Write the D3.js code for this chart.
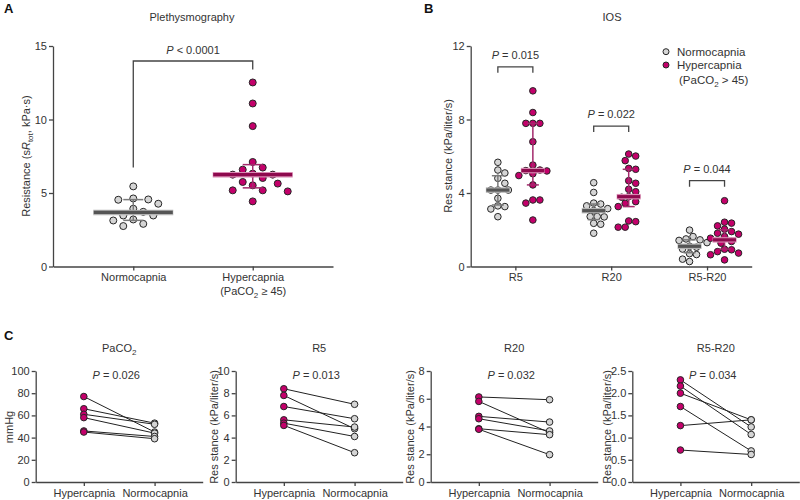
<!DOCTYPE html>
<html><head><meta charset="utf-8">
<script src="https://cdn.jsdelivr.net/npm/d3@7"></script>
<style>
body{margin:0;background:#fff;}
svg{font-family:"Liberation Sans",Arial,Helvetica,sans-serif;}
</style></head><body>
<svg id="chart" width="800" height="500"></svg>
<script>
// ---------------- DATA ----------------
// Panel A: plethysmography
const plethCategories = ["Normocapnia", "Hypercapnia"];
const plethNormo = [5.45,4.63,4.56,4.54,4.27,3.93,3.72,3.47,3.47,3.20,3.13,2.90,2.75];
const plethHyper = [12.52,11.09,9.55,7.11,6.73,6.59,6.32,6.25,6.25,6.02,5.75,5.64,5.52,5.18,5.18,5.11,4.43];
const plethMedian = [3.68, 6.25];
const plethLow = [3.14, 5.35];
const plethHigh = [4.55, 6.93];
const plethTicks = [0,5,10,15];
const plethP = "< 0.0001";

// Panel B: IOS
const iosCategories = ["R5","R20","R5-R20"];
const iosNormo = [
  [5.67,5.25,5.09,4.80,4.53,4.16,4.16,4.16,3.71,3.30,3.26,3.13,2.71],
  [4.56,4.03,3.45,3.40,3.30,3.15,3.04,2.72,2.72,2.70,2.35,2.30,1.81],
  [1.98,1.63,1.50,1.45,1.42,1.30,1.10,1.05,0.95,0.70,0.65,0.40,0.27]
];
const iosHyper = [
  [9.56,8.38,7.79,7.79,7.79,6.79,5.52,5.25,5.22,5.20,5.05,4.95,4.44,3.62,3.62,3.45,2.53],
  [6.12,6.01,5.76,5.34,5.29,4.67,4.53,4.20,4.07,3.80,3.77,3.53,3.44,3.26,2.48,2.44,2.14,2.14],
  [3.58,2.41,2.36,2.21,2.03,1.90,1.81,1.76,1.63,1.54,1.36,1.27,0.94,0.91,0.81,0.73,0.64,0.36]
];
const iosNormoMedian = [4.16,3.04,1.10];
const iosNormoLow = [3.35,2.55,0.75];
const iosNormoHigh = [4.94,3.40,1.45];
const iosHyperMedian = [5.22,3.80,1.45];
const iosHyperLow = [4.44,3.26,0.95];
const iosHyperHigh = [7.79,5.29,2.00];
const iosTicks = [0,4,8,12];
const iosP = ["0.015","0.022","0.044"];

// Panel C: paired
const pairedTitles = ["PaCO2","R5","R20","R5-R20"];
const pairedGroups = ["Hypercapnia","Normocapnia"];
const pairedHyper = [
  [77,66,61,58,46,45],
  [8.4,7.8,6.8,5.6,5.3,5.1],
  [6.13,5.81,4.73,4.56,3.84,3.80],
  [2.30,2.16,2.00,1.70,1.27,0.72]
];
const pairedNormo = [
  [45,53,52,44,41,39],
  [7.0,4.8,5.7,4.95,4.1,2.64],
  [5.93,3.55,4.32,3.68,3.41,1.97],
  [1.24,1.07,1.40,0.70,1.40,0.62]
];
const pairedTicks = [
  [0,20,40,60,80,100],
  [0,2,4,6,8,10],
  [0,2,4,6,8],
  [0,0.5,1.0,1.5,2.0,2.5]
];
const pairedP = ["0.026","0.013","0.032","0.034"];
const pairedYLabels = ["mmHg","Res stance (kPa/liter/s)","Res stance (kPa/liter/s)","Res stance (kPa/liter/s)"];

// ---------------- STYLE ----------------
const MAG = "#c3006a", MAG_DARK = "#8e0a4e", MAG_LIGHT = "#d88ab2", MAG_BAR = "#a32a6c";
const GREY = "#d5d5d5", GREY_DARK = "#555555", GREY_LIGHT = "#b5b5b5", GREY_BAR = "#7a7a7a";
const STROKE = "#262626", TXT = "#333", AX = "#444";
const FS = 11;

const svg = d3.select("#chart");

function styleAxis(g) {
  g.selectAll("path,line").attr("stroke", AX).attr("stroke-width", 1.3);
  g.selectAll("text").attr("fill", TXT).attr("font-size", FS);
}

function swarm(vals, yScale, step, minD) {
  const pts = vals.map(v => ({v, py: yScale(v), dx: 0}));
  const order = pts.slice().sort((a, b) => a.py - b.py);
  const placed = [];
  for (const p of order) {
    for (let k = 0; k < 60; k++) {
      const off = k === 0 ? 0 : (k % 2 === 1 ? 1 : -1) * Math.ceil(k / 2) * step;
      if (placed.every(q => (q.dx - off) ** 2 + (q.py - p.py) ** 2 >= minD * minD)) { p.dx = off; break; }
    }
    placed.push(p);
  }
  return pts;
}

function drawDots(g, pts, cx, fill, r) {
  g.selectAll(null).data(pts).enter().append("circle")
    .attr("cx", d => cx + d.dx).attr("cy", d => d.py).attr("r", r)
    .attr("fill", fill).attr("stroke", STROKE).attr("stroke-width", 1);
}

function drawSummary(g, cx, y, med, lo, hi, halfW, capW, light, dark, bar) {
  g.append("line").attr("x1", cx).attr("x2", cx).attr("y1", y(lo)).attr("y2", y(hi))
    .attr("stroke", bar).attr("stroke-width", 1.5);
  [lo, hi].forEach(v => g.append("line").attr("x1", cx - capW).attr("x2", cx + capW)
    .attr("y1", y(v)).attr("y2", y(v)).attr("stroke", bar).attr("stroke-width", 1.5));
  g.append("line").attr("x1", cx - halfW).attr("x2", cx + halfW).attr("y1", y(med)).attr("y2", y(med))
    .attr("stroke", light).attr("stroke-width", 5.5);
  g.append("line").attr("x1", cx - halfW + 0.5).attr("x2", cx + halfW - 0.5).attr("y1", y(med)).attr("y2", y(med))
    .attr("stroke", dark).attr("stroke-width", 3.2);
}

function pText(g, x, y, val, prefix) {
  const t = g.append("text").attr("x", x).attr("y", y).attr("text-anchor", "middle")
    .attr("font-size", FS).attr("fill", TXT);
  t.append("tspan").attr("font-style", "italic").text("P");
  t.append("tspan").text(prefix + val);
}

function bracket(g, x1, x2, yTop, y1, y2) {
  g.append("path").attr("d", `M${x1},${y1}V${yTop}H${x2}V${y2}`)
    .attr("fill", "none").attr("stroke", AX).attr("stroke-width", 1.3);
}

// ---------------- PANEL A ----------------
{
  const g = svg.append("g");
  const x = d3.scalePoint().domain(plethCategories).range([53, 333]).padding(0.672);
  const y = d3.scaleLinear().domain([0, 15]).range([266.5, 46]);
  const ya = g.append("g").attr("transform", "translate(53,0)")
    .call(d3.axisLeft(y).tickValues(plethTicks).tickSize(4).tickSizeOuter(0).tickPadding(2));
  styleAxis(ya);
  const xa = g.append("g").attr("transform", "translate(0,266.5)")
    .call(d3.axisBottom(x).tickSize(4).tickSizeOuter(0).tickPadding(3));
  styleAxis(xa);
  xa.selectAll(".tick text").filter(d => d === "Hypercapnia").each(function() {
    const t = d3.select(this);
    t.append("tspan").attr("x", 0).attr("dy", "1.2em").text("(PaCO");
    t.append("tspan").attr("font-size", 8).attr("dy", 3).text("2");
    t.append("tspan").attr("dy", -3).text(" \u2265 45)");
  });

  const series = [plethNormo, plethHyper];
  const fills = [GREY, MAG];
  series.forEach((vals, i) => {
    const cx = x(plethCategories[i]);
    drawDots(g, swarm(vals, y, 5, 10.2), cx, fills[i], 3.5);
  });
  drawSummary(g, x(plethCategories[0]), y, plethMedian[0], plethLow[0], plethHigh[0], 40, 10, GREY_LIGHT, GREY_DARK, GREY_BAR);
  drawSummary(g, x(plethCategories[1]), y, plethMedian[1], plethLow[1], plethHigh[1], 40, 10, MAG_LIGHT, MAG_DARK, MAG_BAR);

  const x1 = x(plethCategories[0]), x2 = x(plethCategories[1]);
  bracket(g, x1, x2, 61, y(d3.max(plethNormo)) - 19, y(d3.max(plethHyper)) - 13);
  pText(g, (x1 + x2) / 2, 54, plethP, " ");

  g.append("text").attr("x", 192).attr("y", 21).attr("text-anchor", "middle")
    .attr("font-size", FS).attr("fill", TXT).text("Plethysmography");
  const yl = g.append("text").attr("transform", "translate(30,156) rotate(-90)")
    .attr("text-anchor", "middle").attr("font-size", FS).attr("fill", TXT);
  yl.append("tspan").text("Resistance (s");
  yl.append("tspan").attr("font-style", "italic").text("R");
  yl.append("tspan").attr("font-size", 8).attr("dy", 3).text("tot");
  yl.append("tspan").attr("dy", -3).text(", kPa\u00b7s)");
  g.append("text").attr("x", 4).attr("y", 13).attr("font-size", 13).attr("font-weight", "bold")
    .attr("fill", "#111").text("A");
}

// ---------------- PANEL B ----------------
{
  const g = svg.append("g");
  const x = d3.scalePoint().domain(iosCategories).range([470.7, 751.7]).padding(0.466);
  const y = d3.scaleLinear().domain([0, 12]).range([266.5, 46]);
  const ya = g.append("g").attr("transform", "translate(470.7,0)")
    .call(d3.axisLeft(y).tickValues(iosTicks).tickSize(4).tickSizeOuter(0).tickPadding(2));
  styleAxis(ya);
  const xa = g.append("g").attr("transform", "translate(0,266.5)")
    .call(d3.axisBottom(x).tickSize(4).tickSizeOuter(0).tickPadding(3));
  styleAxis(xa);

  const off = 17.5;
  const bracketGap = [24, 28, 20];
  iosCategories.forEach((c, i) => {
    const cx = x(c);
    drawDots(g, swarm(iosNormo[i], y, 3.5, 6.8), cx - off, GREY, 3.3);
    drawDots(g, swarm(iosHyper[i], y, 3.5, 6.8), cx + off, MAG, 3.3);
    drawSummary(g, cx - off, y, iosNormoMedian[i], iosNormoLow[i], iosNormoHigh[i], 12, 6, GREY_LIGHT, GREY_DARK, GREY_BAR);
    drawSummary(g, cx + off, y, iosHyperMedian[i], iosHyperLow[i], iosHyperHigh[i], 12, 6, MAG_LIGHT, MAG_DARK, MAG_BAR);
    const top = y(d3.max(iosHyper[i])) - bracketGap[i];
    bracket(g, cx - off, cx + off, top, top + 6, top + 6);
    pText(g, cx, top - 8, iosP[i], " = ");
  });

  g.append("text").attr("x", 612).attr("y", 21).attr("text-anchor", "middle")
    .attr("font-size", FS).attr("fill", TXT).text("IOS");
  g.append("text").attr("transform", "translate(452,156) rotate(-90)")
    .attr("text-anchor", "middle").attr("font-size", FS).attr("fill", TXT).text("Res stance (kPa/liter/s)");
  g.append("text").attr("x", 424).attr("y", 13).attr("font-size", 13).attr("font-weight", "bold")
    .attr("fill", "#111").text("B");

  // legend
  const lg = g.append("g");
  lg.append("circle").attr("cx", 666).attr("cy", 51.7).attr("r", 3).attr("fill", GREY).attr("stroke", STROKE);
  lg.append("circle").attr("cx", 666).attr("cy", 65).attr("r", 3).attr("fill", MAG).attr("stroke", STROKE);
  lg.append("text").attr("x", 677).attr("y", 55.5).attr("font-size", 11.5).attr("fill", TXT).text("Normocapnia");
  lg.append("text").attr("x", 677).attr("y", 69).attr("font-size", 11.5).attr("fill", TXT).text("Hypercapnia");
  const l3 = lg.append("text").attr("x", 679).attr("y", 84).attr("font-size", 11.5).attr("fill", TXT);
  l3.append("tspan").text("(PaCO");
  l3.append("tspan").attr("font-size", 8).attr("dy", 3).text("2");
  l3.append("tspan").attr("dy", -3).text(" > 45)");
}

// ---------------- PANEL C ----------------
{
  const axisX0 = [35.7, 235.7, 430.7, 632.3];
  const yLabelX = [13, 218, 414, 611];
  pairedTitles.forEach((title, i) => {
    const g = svg.append("g");
    const x0 = axisX0[i];
    const x = d3.scalePoint().domain(pairedGroups).range([x0, x0 + 167]).padding(0.68);
    const ticks = pairedTicks[i];
    const y = d3.scaleLinear().domain([0, ticks[ticks.length - 1]]).range([482, 371]);
    const fmt = i === 3 ? d3.format(".1f") : d3.format("d");
    const ya = g.append("g").attr("transform", `translate(${x0},0)`)
      .call(d3.axisLeft(y).tickValues(ticks).tickFormat(fmt).tickSize(4).tickSizeOuter(0).tickPadding(2));
    styleAxis(ya);
    const xa = g.append("g").attr("transform", "translate(0,482)")
      .call(d3.axisBottom(x).tickSize(4).tickSizeOuter(0).tickPadding(3));
    styleAxis(xa);

    const xh = x(pairedGroups[0]), xn = x(pairedGroups[1]);
    pairedHyper[i].forEach((h, j) => {
      g.append("line").attr("x1", xh).attr("y1", y(h)).attr("x2", xn).attr("y2", y(pairedNormo[i][j]))
        .attr("stroke", "#222").attr("stroke-width", 1);
    });
    g.selectAll(null).data(pairedNormo[i]).enter().append("circle")
      .attr("cx", xn).attr("cy", d => y(d)).attr("r", 3.3)
      .attr("fill", GREY).attr("stroke", STROKE).attr("stroke-width", 1);
    g.selectAll(null).data(pairedHyper[i]).enter().append("circle")
      .attr("cx", xh).attr("cy", d => y(d)).attr("r", 3.3)
      .attr("fill", MAG).attr("stroke", STROKE).attr("stroke-width", 1);

    const cx = (xh + xn) / 2;
    const tt = g.append("text").attr("x", cx).attr("y", 352).attr("text-anchor", "middle")
      .attr("font-size", FS).attr("fill", TXT);
    if (title === "PaCO2") {
      tt.append("tspan").text("PaCO");
      tt.append("tspan").attr("font-size", 8).attr("dy", 3).text("2");
    } else {
      tt.text(title);
    }
    pText(g, cx - 3, 379, pairedP[i], " = ");
    g.append("text").attr("transform", `translate(${yLabelX[i]},427) rotate(-90)`)
      .attr("text-anchor", "middle").attr("font-size", FS).attr("fill", TXT).text(pairedYLabels[i]);
  });
  svg.append("text").attr("x", 4).attr("y", 340).attr("font-size", 13).attr("font-weight", "bold")
    .attr("fill", "#111").text("C");
}
</script>
</body></html>
